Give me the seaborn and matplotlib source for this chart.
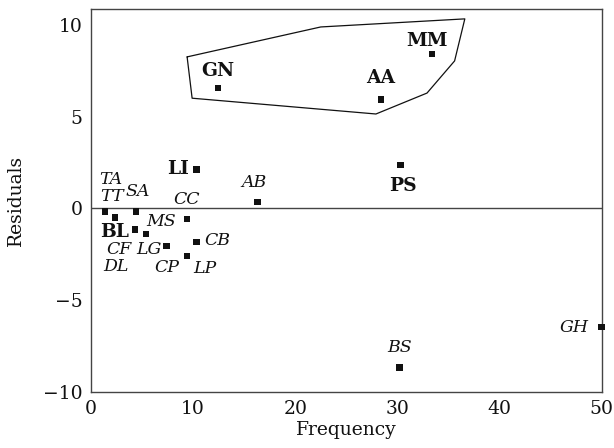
import matplotlib
matplotlib.use("Agg")
import matplotlib.pyplot as plt
import seaborn as sns
import pandas as pd

# ---- data ----
labels = ["GN", "AA", "MM", "LI", "PS", "AB", "TA", "TT", "SA", "CC",
          "BL", "MS", "CF", "LG", "DL", "CB", "CP", "LP", "BS", "GH"]
frequency = [12.45, 28.4, 33.4, 10.35, 30.3, 16.3, 1.37, 2.34, 4.4, 9.4,
             4.3, 5.4, 4.3, 7.4, 2.34, 10.35, 9.4, 9.4, 30.2, 50.0]
residuals = [6.55, 5.94, 8.41, 2.12, 2.36, 0.36, -0.18, -0.51, -0.18, -0.58,
             -1.15, -1.40, -1.15, -2.04, -0.51, -1.82, -2.60, -2.60, -8.67, -6.45]
bold_labels = ["GN", "AA", "MM", "LI", "PS", "BL"]
hull_x = [9.42, 22.5, 36.6, 35.6, 32.9, 27.9, 9.91, 9.42]
hull_y = [8.25, 9.88, 10.32, 8.03, 6.28, 5.14, 6.0, 8.25]
x_ticks = [0, 10, 20, 30, 40, 50]
y_ticks = [-10, -5, 0, 5, 10]

# label offsets in pixels (style, not data)
offsets = {"GN": (0, 17), "AA": (0, 21), "MM": (-5, 13), "LI": (-19, 0),
           "PS": (2, -21), "AB": (-3, 19), "TA": (6, 32), "TT": (-3, 21),
           "SA": (2, 20), "CC": (0, 20), "BL": (-20, -3), "MS": (15, 13),
           "CF": (-16, -20), "LG": (-18, -4), "DL": (1, -49), "CB": (21, 1),
           "CP": (-20, -11), "LP": (18, -12), "BS": (0, 20), "GH": (-28, -1)}

df = pd.DataFrame({"Frequency": frequency, "Residuals": residuals, "label": labels})

sns.set_theme(style="white")
plt.rcParams["font.family"] = ["DejaVu Serif"]
plt.rcParams["mathtext.fontset"] = "dejavuserif"

fig = plt.figure(figsize=(6.14, 4.48), dpi=100)
ax = fig.add_axes([0.148, 0.125, 0.832, 0.855])

sns.scatterplot(data=df, x="Frequency", y="Residuals", marker="s", s=22,
                color="#111111", edgecolor="none", ax=ax, zorder=3, clip_on=False)

ax.plot(hull_x, hull_y, color="#111111", lw=0.9)
ax.axhline(0, color="#444444", lw=1.0, zorder=1)

for lab, xv, yv in zip(labels, frequency, residuals):
    dx, dy = offsets[lab]
    bold = lab in bold_labels
    ax.annotate(lab, (xv, yv), xytext=(dx, dy), textcoords="offset pixels",
                ha="center", va="center", fontsize=13.5 if bold else 12.5,
                fontweight="bold" if bold else "normal",
                fontstyle="normal" if bold else "italic", color="#111111")

ax.set_xlim(0, 50)
ax.set_ylim(-10, 10.86)
ax.set_xticks(x_ticks)
ax.set_yticks(y_ticks)
ax.set_yticklabels([str(t).replace("-", "\u2212") for t in y_ticks])
ax.tick_params(axis="both", direction="in", length=11, width=0.9, color="#333333",
               labelsize=13.5, labelcolor="#111111")
ax.tick_params(axis="x", pad=6)
ax.tick_params(axis="y", pad=6)
for sp in ax.spines.values():
    sp.set_color("#444444")
    sp.set_linewidth(1.0)
ax.set_xlabel("Frequency", fontsize=13.5, color="#111111", labelpad=2)
ax.set_ylabel("Residuals", fontsize=13.5, color="#111111", labelpad=13)
ax.grid(False)

fig.savefig("out.png", dpi=100)
